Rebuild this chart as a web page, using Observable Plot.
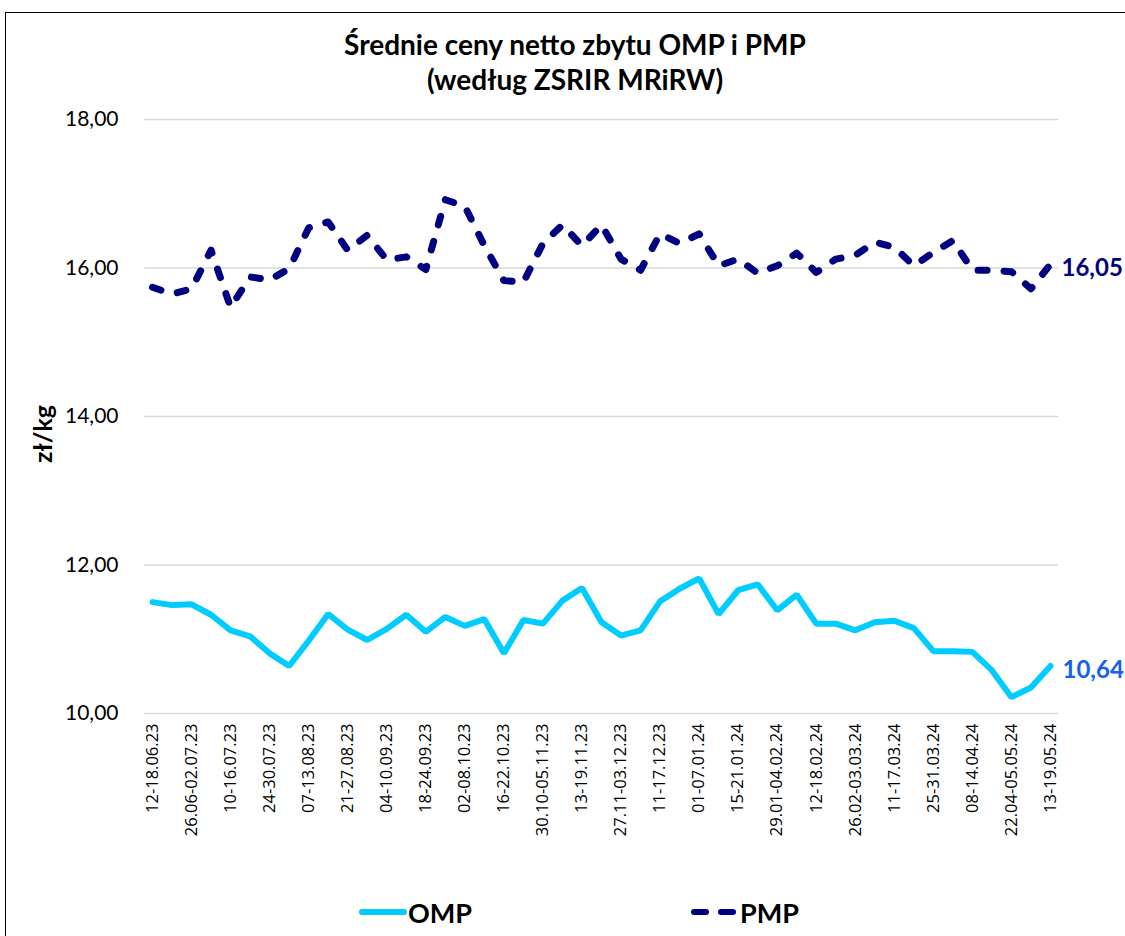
<!DOCTYPE html>
<html>
<head>
<meta charset="utf-8">
<script src="https://cdn.jsdelivr.net/npm/d3@7"></script>
<script src="https://cdn.jsdelivr.net/npm/@observablehq/plot@0.6"></script>
<style>
  html, body { margin: 0; padding: 0; background: #fff; }
  #wrap { position: relative; width: 1125px; height: 936px; overflow: hidden; background: #fff; }
  #frame { position: absolute; left: 5px; top: 12px; width: 1200px; height: 1000px; border-top: 1.5px solid #000; border-left: 1.5px solid #000; box-sizing: border-box; }
  #title { position: absolute; left: 0; top: 27px; width: 1150px; text-align: center; font-family: Lato, sans-serif; font-weight: 700; font-size: 28px; line-height: 35px; color: #000; }
  #chart { position: absolute; left: 0; top: 100px; }
  #ylabel { position: absolute; left: 42px; top: 434px; transform: translate(-50%, -50%) rotate(-90deg); font-family: Lato, sans-serif; font-weight: 700; font-size: 25px; color: #000; white-space: nowrap; }
  .leg { position: absolute; top: 894px; height: 36px; display: flex; align-items: center; font-family: Lato, sans-serif; font-weight: 700; font-size: 27px; color: #000; }
</style>
</head>
<body>
<div id="wrap">
  <div id="frame"></div>
  <div id="title">Średnie ceny netto zbytu OMP i PMP<br>(według ZSRIR MRiRW)</div>
  <div id="chart"></div>
  <div id="ylabel">zł/kg</div>
  <div class="leg" style="left:358px"><svg width="50" height="20"><line x1="4" y1="10" x2="46" y2="10" stroke="#00CCFF" stroke-width="6" stroke-linecap="round"/></svg><span>OMP</span></div>
  <div class="leg" style="left:690px"><svg width="50" height="20"><line x1="4" y1="10" x2="46" y2="10" stroke="#000080" stroke-width="6" stroke-linecap="round" stroke-dasharray="12,15"/></svg><span>PMP</span></div>
</div>
<script>
const weeks = [
  "12-18.06.23","19-25.06.23","26.06-02.07.23","03-09.07.23","10-16.07.23","17-23.07.23",
  "24-30.07.23","31.07-06.08.23","07-13.08.23","14-20.08.23","21-27.08.23","28.08-03.09.23",
  "04-10.09.23","11-17.09.23","18-24.09.23","25.09-01.10.23","02-08.10.23","09-15.10.23",
  "16-22.10.23","23-29.10.23","30.10-05.11.23","06-12.11.23","13-19.11.23","20-26.11.23",
  "27.11-03.12.23","04-10.12.23","11-17.12.23","18-31.12.23","01-07.01.24","08-14.01.24",
  "15-21.01.24","22-28.01.24","29.01-04.02.24","05-11.02.24","12-18.02.24","19-25.02.24",
  "26.02-03.03.24","04-10.03.24","11-17.03.24","18-24.03.24","25-31.03.24","01-07.04.24",
  "08-14.04.24","15-21.04.24","22.04-05.05.24","06-12.05.24","13-19.05.24"
];
const omp = [
  11.50,11.46,11.47,11.33,11.12,11.04,10.81,10.64,10.98,11.34,11.13,10.99,
  11.14,11.33,11.10,11.30,11.18,11.27,10.81,11.26,11.21,11.52,11.69,11.23,
  11.05,11.12,11.51,11.68,11.82,11.34,11.66,11.74,11.39,11.60,11.21,11.21,
  11.12,11.23,11.25,11.15,10.84,10.84,10.83,10.58,10.22,10.35,10.64
];
const pmp = [
  15.74,15.65,15.72,16.24,15.47,15.88,15.84,15.99,16.54,16.62,16.24,16.44,
  16.11,16.15,15.98,16.92,16.83,16.30,15.83,15.81,16.33,16.58,16.30,16.58,
  16.12,15.97,16.46,16.33,16.46,16.03,16.12,15.93,16.03,16.20,15.94,16.12,
  16.17,16.35,16.28,16.03,16.21,16.37,15.97,15.97,15.95,15.72,16.05
];
const yTicks = [10, 12, 14, 16, 18];
const xTickIndex = weeks.map((d, i) => i).filter(i => i % 2 === 0);

const data = weeks.map((w, i) => ({i, week: w, omp: omp[i], pmp: pmp[i]}));
const last = [data[data.length - 1]];
const fmt = v => v.toFixed(2).replace(".", ",");

const chart = Plot.plot({
  width: 1125,
  height: 780,
  marginLeft: 144,
  marginRight: 67,
  marginTop: 19,
  marginBottom: 167,
  style: {fontFamily: "Lato, sans-serif", background: "transparent", overflow: "visible"},
  x: {type: "linear", domain: [0, weeks.length - 1], range: [152, 1050]},
  y: {domain: [10, 18]},
  marks: [
    Plot.ruleY(yTicks, {stroke: "#d9d9d9", strokeWidth: 1.3}),
    Plot.axisY({ticks: yTicks, tickFormat: fmt, tickSize: 0, tickPadding: 26, fontSize: 21, fill: "#000", label: null}),
    Plot.axisX({ticks: xTickIndex, tickFormat: i => weeks[i], tickRotate: -90, tickSize: 0, tickPadding: 10, fontSize: 16.5, fontFamily: "Open Sans, sans-serif", fill: "#000", label: null}),
    Plot.line(data, {x: "i", y: "omp", stroke: "#00CCFF", strokeWidth: 6, strokeLinejoin: "miter", strokeLinecap: "round"}),
    Plot.line(data, {x: "i", y: "pmp", stroke: "#000080", strokeWidth: 7, strokeLinecap: "round", strokeLinejoin: "round", strokeDasharray: "9,17"}),
    Plot.text(last, {x: "i", y: "pmp", text: d => fmt(d.pmp), dx: 11, dy: 4, textAnchor: "start", fill: "#000080", fontWeight: 700, fontSize: 24}),
    Plot.text(last, {x: "i", y: "omp", text: d => fmt(d.omp), dx: 12, dy: 4, textAnchor: "start", fill: "#1560F0", fontWeight: 700, fontSize: 24})
  ]
});
document.getElementById("chart").appendChild(chart);
</script>
</body>
</html>
